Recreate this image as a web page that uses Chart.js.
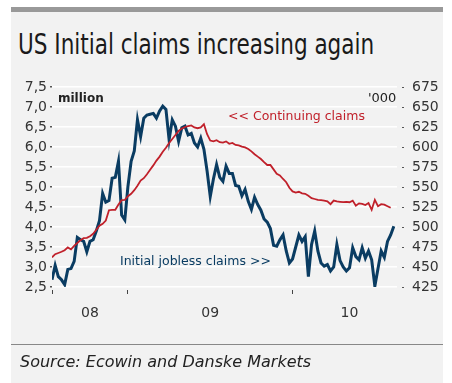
<!DOCTYPE html>
<html>
<head>
<meta charset="utf-8">
<script src="https://cdn.jsdelivr.net/npm/chart.js@4.4.0/dist/chart.umd.min.js"></script>
<style>
  body { margin: 0; width: 452px; height: 383px; background: #fff; position: relative; overflow: hidden; font-family: "DejaVu Sans", sans-serif; }
  #panel { position: absolute; left: 11px; top: 7px; width: 432px; height: 376px; background: #f2f2f2; }
  #topbar { position: absolute; left: 11px; top: 7px; width: 432px; height: 5px; background: #999; }
  #title { position: absolute; left: 18px; top: 31px; font-family: "DejaVu Sans Condensed", "Liberation Sans Narrow", sans-serif; font-size: 28px; line-height: 1; color: #1a1a1a; white-space: nowrap; transform: scaleX(0.855); transform-origin: left top; }
  #rule { position: absolute; left: 11px; top: 344px; width: 432px; height: 1px; background: #888; }
  #source { position: absolute; left: 20px; top: 354px; font-size: 16px; line-height: 1; font-style: italic; color: #222; white-space: nowrap; }
  .note { position: absolute; line-height: 1; white-space: nowrap; }
  #unit-left { left: 58px; top: 92px; font-size: 12px; font-weight: bold; color: #222; }
  #unit-right { left: 368px; top: 91px; font-size: 13px; color: #222; }
  #label-cont { left: 228px; top: 110px; font-size: 12.5px; color: #c0202a; }
  #label-init { left: 120px; top: 255px; font-size: 12.5px; color: #0a3c62; }
  #chart { position: absolute; left: 0; top: 0; }
</style>
</head>
<body>
<div id="panel"></div>
<div id="topbar"></div>
<div id="title">US Initial claims increasing again</div>
<canvas id="chart" width="452" height="383"></canvas>
<div class="note" id="unit-left">million</div>
<div class="note" id="unit-right">'000</div>
<div class="note" id="label-cont">&lt;&lt; Continuing claims</div>
<div class="note" id="label-init">Initial jobless claims &gt;&gt;</div>
<div id="rule"></div>
<div id="source">Source: Ecowin and Danske Markets</div>

<script>
// weekly data, mid 2008 to aug 2010 (one value per week)
// continuing claims, million (left axis)
var continuing_claims = [
  3.24, 3.32, 3.35, 3.38, 3.42, 3.49, 3.44, 3.53, 3.60, 3.67,
  3.72, 3.73, 3.77, 3.83, 3.93, 4.03, 4.08, 4.16, 4.42, 4.43,
  4.43, 4.56, 4.67, 4.68, 4.77, 4.83, 4.92, 5.03, 5.16, 5.22,
  5.32, 5.43, 5.54, 5.66, 5.76, 5.88, 5.98, 6.10, 6.20, 6.30,
  6.40, 6.46, 6.50, 6.52, 6.54, 6.49, 6.47, 6.49, 6.57, 6.32,
  6.16, 6.14, 6.17, 6.12, 6.11, 6.14, 6.08, 6.10, 6.05, 6.04,
  6.01, 5.99, 5.95, 5.89, 5.82, 5.76, 5.70, 5.62, 5.55, 5.55,
  5.44, 5.33, 5.29, 5.20, 5.12, 4.98, 4.89, 4.86, 4.88, 4.84,
  4.83, 4.78, 4.72, 4.70, 4.68, 4.67, 4.66, 4.64, 4.57, 4.66,
  4.64, 4.63, 4.62, 4.63, 4.62, 4.66, 4.53, 4.59, 4.58, 4.55,
  4.60, 4.43, 4.68, 4.52, 4.57, 4.56, 4.52, 4.48
];

// initial jobless claims, thousands (right axis)
var initial_claims = [
  434, 452, 438, 434, 428, 447, 448, 457, 487, 484,
  482, 469, 482, 484, 495, 508, 542, 531, 533, 561,
  562, 582, 515, 509, 551, 582, 595, 634, 613, 636,
  640, 641, 642, 636, 645, 651, 647, 609, 634, 626,
  607, 624, 626, 615, 617, 605, 600, 611, 597, 570,
  538, 560, 578, 562, 557, 576, 567, 567, 552, 551,
  539, 547, 532, 522, 537, 528, 521, 510, 506, 498,
  477, 476, 484, 490, 470, 455, 460, 475, 490, 482,
  488, 438, 478, 495, 470, 455, 451, 453, 445, 450,
  478, 458, 450, 445, 449, 474, 463, 459, 474, 461,
  470, 459, 426, 448, 470, 462, 482, 490, 501
];

// x axis: year labels and the weeks where they sit
var year_labels = ["08", "09", "10"];
var year_label_weeks = [12, 50, 94];
// weeks where a new year starts (small tick marks)
var year_start_weeks = [0, 24, 76];

var color_red = "#c0202a";
var color_blue = "#0a3c62";
var tick_font = {family: "DejaVu Sans", size: 14};

function to_points(values) {
  var pts = [];
  for (var i = 0; i < values.length; i++) {
    pts.push({x: i, y: values[i]});
  }
  return pts;
}

function setup_chart() {
  new Chart(document.getElementById("chart"), {
    type: "line",
    data: {
      datasets: [{
        label: "Continuing claims",
        yAxisID: "y_left",
        data: to_points(continuing_claims),
        borderColor: color_red,
        borderWidth: 1.8,
        pointRadius: 0,
        fill: false
      },
      {
        label: "Initial jobless claims",
        yAxisID: "y_right",
        data: to_points(initial_claims),
        borderColor: color_blue,
        borderWidth: 3,
        pointRadius: 0,
        fill: false
      }]
    },
    options: {
      responsive: false,
      animation: false,
      layout: {padding: {top: 87, bottom: 56, left: 0, right: 0}},
      plugins: {
        legend: {display: false},
        tooltip: {enabled: false}
      },
      scales: {
        x: {
          type: "linear",
          min: 0,
          max: 109,
          border: {display: false},
          grid: {
            drawOnChartArea: false,
            tickLength: 8,
            tickWidth: 1,
            tickBorderDash: [0, 3, 4, 50],
            tickColor: function(c) {
              return (c.tick && year_start_weeks.indexOf(c.tick.value) >= 0) ? "#444" : "rgba(0,0,0,0)";
            }
          },
          afterBuildTicks: function(scale) {
            var all = year_start_weeks.concat(year_label_weeks).sort(function(a, b) { return a - b; });
            scale.ticks = all.map(function(v) { return {value: v}; });
          },
          afterFit: function(scale) { scale.height = 40; },
          ticks: {
            autoSkip: false,
            maxRotation: 0,
            padding: 10,
            color: "#333",
            font: tick_font,
            callback: function(value) {
              var k = year_label_weeks.indexOf(value);
              return k >= 0 ? year_labels[k] : "";
            }
          }
        },
        y_left: {
          position: "left",
          min: 2.5,
          max: 7.5,
          border: {display: false},
          grid: {
            color: "#ffffff",
            lineWidth: 1.5,
            tickLength: 4,
            tickColor: "#555",
            tickBorderDash: [0, 2, 2, 20]
          },
          afterFit: function(scale) { scale.width = 52; },
          ticks: {
            stepSize: 0.5,
            padding: 1,
            color: "#333",
            font: tick_font,
            callback: function(v) { return v.toFixed(1).replace(".", ","); }
          }
        },
        y_right: {
          position: "right",
          min: 425,
          max: 675,
          border: {display: false},
          grid: {
            drawOnChartArea: false,
            tickLength: 7,
            tickColor: "#555",
            tickBorderDash: [0, 5, 2, 20]
          },
          afterFit: function(scale) { scale.width = 55; },
          ticks: {
            stepSize: 25,
            padding: 8,
            color: "#333",
            font: tick_font
          }
        }
      }
    }
  });
}

document.addEventListener("DOMContentLoaded", setup_chart);
</script>
</body>
</html>
